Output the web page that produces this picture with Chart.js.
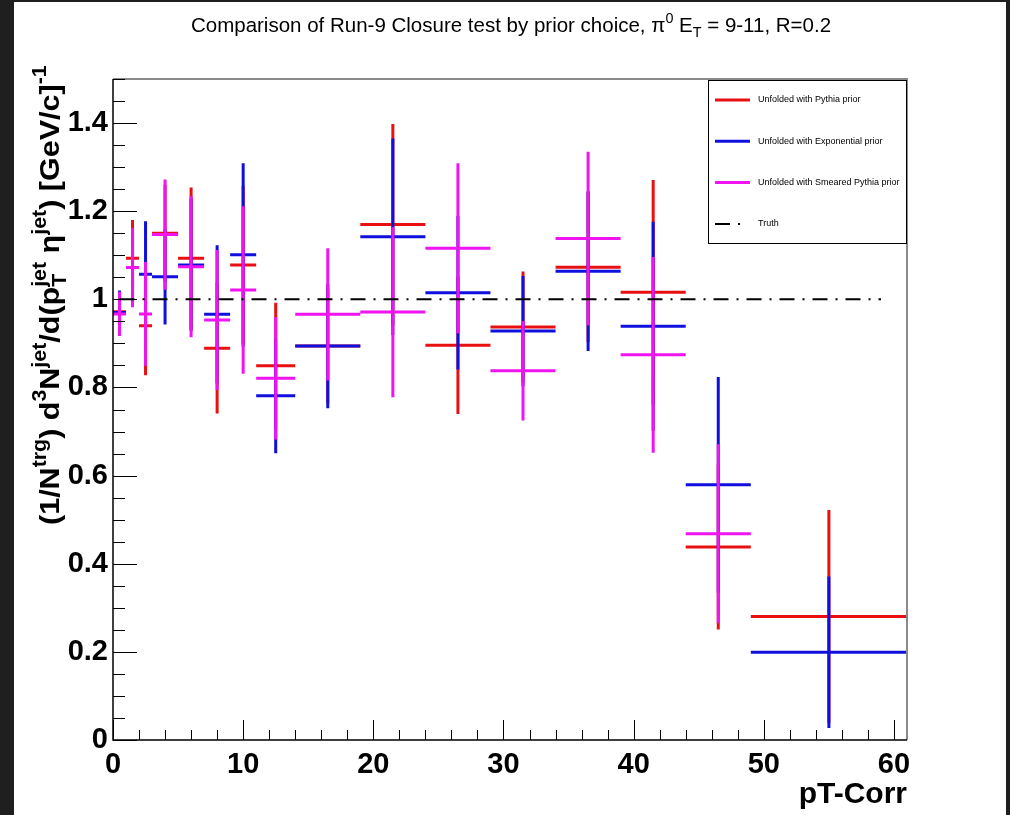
<!DOCTYPE html>
<html>
<head>
<meta charset="utf-8">
<script src="https://cdn.jsdelivr.net/npm/chart.js@4.4.1/dist/chart.umd.min.js"></script>
<style>
  html, body { margin: 0; padding: 0; background: #1f1f1f; }
  #wrap { width: 1010px; height: 815px; }
</style>
</head>
<body>
<div id="wrap"><canvas id="closureChart" width="1010" height="815"></canvas></div>
<script>
// Run-9 closure test, pi0 ET = 9-11, R=0.2

const binEdges = [0, 1, 2, 3, 5, 7, 9, 11, 14, 19, 24, 29, 34, 39, 44, 49, 61];

const pythiaPrior    = [0.972, 1.093, 0.940, 1.150, 1.093, 0.889, 1.078, 0.849, 0.894, 1.170, 0.896, 0.937, 1.073, 1.016, 0.438, 0.280];
const pythiaPriorErr = [0.045, 0.087, 0.112, 0.110, 0.161, 0.148, 0.180, 0.143, 0.130, 0.228, 0.156, 0.126, 0.170, 0.255, 0.187, 0.242];

const expPrior    = [0.970, 1.072, 1.057, 1.051, 1.078, 0.966, 1.101, 0.781, 0.894, 1.142, 1.015, 0.928, 1.064, 0.939, 0.579, 0.199];
const expPriorErr = [0.050, 0.080, 0.120, 0.108, 0.150, 0.157, 0.208, 0.130, 0.141, 0.223, 0.174, 0.125, 0.181, 0.237, 0.245, 0.172];

const smearedPrior    = [0.967, 1.072, 0.967, 1.147, 1.074, 0.953, 1.021, 0.821, 0.966, 0.971, 1.116, 0.838, 1.138, 0.874, 0.468, null];
const smearedPriorErr = [0.050, 0.090, 0.118, 0.125, 0.160, 0.159, 0.190, 0.139, 0.150, 0.193, 0.193, 0.113, 0.197, 0.222, 0.203, null];

const truthX = [0.5, 59];
const truthY = [1, 1];

const xTicks = [0, 10, 20, 30, 40, 50, 60];
const yTicks = [0, 0.2, 0.4, 0.6, 0.8, 1.0, 1.2, 1.4];

const FONT = '"Liberation Sans", Arial, Helvetica, sans-serif';

// each bin -> horizontal bar over the bin width + vertical error bar, split by nulls
function errorBarPoints(values, errors) {
    const pts = [];
    values.forEach((v, i) => {
        if (v === null) return;
        const lo = binEdges[i], hi = binEdges[i + 1], mid = (lo + hi) / 2;
        pts.push({ x: lo, y: v }, { x: hi, y: v }, { x: mid, y: null });
        pts.push({ x: mid, y: v - errors[i] }, { x: mid, y: v + errors[i] }, { x: mid, y: null });
    });
    return pts;
}

// text with ROOT-like sub/superscripts; parts = [[text, mode]], mode '' | '^' | '_' | '_^'
function richWidth(ctx, parts, size, weight) {
    let w = 0;
    parts.forEach(([t, mode]) => {
        if (mode === '') {
            ctx.font = `${weight} ${size}px ${FONT}`;
            w += ctx.measureText(t).width;
        } else {
            ctx.font = `${weight} ${size * 0.7}px ${FONT}`;
            if (mode === '_^') w += Math.max(ctx.measureText(t.sub).width, ctx.measureText(t.sup).width);
            else w += ctx.measureText(t).width;
        }
    });
    return w;
}

function drawRich(ctx, parts, x, y, size, weight, align) {
    let cx = x;
    if (align === 'center') cx -= richWidth(ctx, parts, size, weight) / 2;
    if (align === 'right') cx -= richWidth(ctx, parts, size, weight);
    ctx.textBaseline = 'alphabetic';
    ctx.textAlign = 'left';
    parts.forEach(([t, mode]) => {
        if (mode === '') {
            ctx.font = `${weight} ${size}px ${FONT}`;
            ctx.fillText(t, cx, y);
            cx += ctx.measureText(t).width;
            return;
        }
        ctx.font = `${weight} ${size * 0.7}px ${FONT}`;
        if (mode === '^') {
            ctx.fillText(t, cx, y - size * 0.45);
            cx += ctx.measureText(t).width;
        } else if (mode === '_') {
            ctx.fillText(t, cx, y + size * 0.25);
            cx += ctx.measureText(t).width;
        } else {
            ctx.fillText(t.sup, cx, y - size * 0.45);
            ctx.fillText(t.sub, cx, y + size * 0.25);
            cx += Math.max(ctx.measureText(t.sub).width, ctx.measureText(t.sup).width);
        }
    });
}

const titleParts = [
    ['Comparison of Run-9 Closure test by prior choice, \u03C0', ''], ['0', '^'],
    [' E', ''], ['T', '_'], [' = 9-11, R=0.2', '']
];
const yTitleParts = [
    ['(1/N', ''], ['trg', '^'], [') d', ''], ['3', '^'], ['N', ''], ['jet', '^'],
    ['/d(p', ''], [{ sub: 'T', sup: 'jet' }, '_^'], [' \u03B7', ''], ['jet', '^'],
    [') [GeV/c]', ''], ['-1', '^']
];

const rootStyle = {
    id: 'rootStyle',
    beforeDraw(chart) {
        const ctx = chart.ctx;
        ctx.save();
        ctx.fillStyle = '#1f1f1f';
        ctx.fillRect(0, 0, chart.width, chart.height);
        ctx.fillStyle = '#ffffff';
        ctx.fillRect(14, 2, 992, chart.height - 2);
        ctx.restore();
    },
    afterDraw(chart) {
        const ctx = chart.ctx;
        const { left, right, top, bottom } = chart.chartArea;
        const xs = chart.scales.x, ys = chart.scales.y;
        ctx.save();

        // frame
        ctx.lineWidth = 2;
        ctx.strokeStyle = '#8a8a8a';
        ctx.beginPath();
        ctx.moveTo(left, top); ctx.lineTo(right, top); ctx.lineTo(right, bottom);
        ctx.stroke();
        ctx.lineWidth = 1.5;
        ctx.strokeStyle = '#000';
        ctx.beginPath();
        ctx.moveTo(left, top); ctx.lineTo(left, bottom); ctx.lineTo(right, bottom);
        ctx.stroke();

        // inward ticks
        ctx.lineWidth = 1;
        ctx.beginPath();
        for (let i = 0; i <= 30; i++) {
            const v = i * 0.05;
            const py = Math.round(ys.getPixelForValue(v)) + 0.5;
            const len = (i % 4 === 0) ? 24 : 12;
            ctx.moveTo(left, py); ctx.lineTo(left + len, py);
        }
        for (let v = 0; v <= 61; v += 2) {
            const px = Math.round(xs.getPixelForValue(v)) + 0.5;
            const len = (v % 10 === 0) ? 20 : 10;
            ctx.moveTo(px, bottom); ctx.lineTo(px, bottom - len);
        }
        ctx.stroke();

        // titles
        ctx.fillStyle = '#000';
        drawRich(ctx, titleParts, 511, 32, 20.5, 'normal', 'center');
        ctx.font = `bold 30px ${FONT}`;
        ctx.textAlign = 'right';
        ctx.textBaseline = 'alphabetic';
        ctx.fillText('pT-Corr', 907, 803);
        ctx.save();
        ctx.translate(59, 525);
        ctx.rotate(-Math.PI / 2);
        ctx.scale(1.09, 1);
        drawRich(ctx, yTitleParts, 0, 0, 28, 'bold', 'left');
        ctx.restore();

        // legend box
        ctx.fillStyle = '#fff';
        ctx.fillRect(708, 80, 199, 164);
        ctx.strokeStyle = '#000';
        ctx.lineWidth = 1;
        ctx.strokeRect(708.5, 80.5, 198, 163);
        const legendOrder = [3, 2, 1, 0];
        legendOrder.forEach((di, k) => {
            const ds = chart.data.datasets[di];
            const ly = 100 + k * 41.3;
            ctx.strokeStyle = ds.borderColor;
            ctx.lineWidth = ds.borderWidth;
            ctx.setLineDash(ds.borderDash || []);
            ctx.beginPath();
            ctx.moveTo(715, ly); ctx.lineTo(ds.borderDash ? 748 : 750, ly);
            ctx.stroke();
            ctx.setLineDash([]);
            ctx.fillStyle = '#000';
            ctx.font = `9px ${FONT}`;
            ctx.textAlign = 'left';
            ctx.textBaseline = 'middle';
            ctx.fillText(ds.label, 758, ly);
        });
        ctx.restore();
    }
};

const lineDefaults = { showLine: true, pointRadius: 0, borderWidth: 3, spanGaps: false, tension: 0, fill: false };

// first dataset is drawn top-most
new Chart(document.getElementById('closureChart'), {
    type: 'scatter',
    data: {
        datasets: [
            { ...lineDefaults, label: 'Truth', data: truthX.map((x, i) => ({ x, y: truthY[i] })),
              borderColor: '#000', borderWidth: 2, borderDash: [15, 8, 2, 8] },
            { ...lineDefaults, label: 'Unfolded with Smeared Pythia prior', data: errorBarPoints(smearedPrior, smearedPriorErr),
              borderColor: 'rgb(240, 20, 240)' },
            { ...lineDefaults, label: 'Unfolded with Exponential prior', data: errorBarPoints(expPrior, expPriorErr),
              borderColor: 'rgb(16, 16, 222)' },
            { ...lineDefaults, label: 'Unfolded with Pythia prior', data: errorBarPoints(pythiaPrior, pythiaPriorErr),
              borderColor: 'rgb(232, 16, 16)' }
        ]
    },
    options: {
        responsive: false,
        animation: false,
        devicePixelRatio: 1,
        layout: { padding: { left: 0, top: 79, right: 103, bottom: 0 } },
        plugins: { legend: { display: false }, tooltip: { enabled: false }, title: { display: false } },
        scales: {
            x: {
                type: 'linear', min: 0, max: 61,
                grid: { display: false, drawTicks: false },
                border: { display: false },
                afterBuildTicks: (scale) => { scale.ticks = xTicks.map(v => ({ value: v })); },
                afterFit: (scale) => { scale.height = 75; },
                ticks: { color: '#000', padding: 8, maxRotation: 0, font: { family: FONT, size: 29, weight: 'bold' } }
            },
            y: {
                type: 'linear', min: 0, max: 1.5,
                grid: { display: false, drawTicks: false },
                border: { display: false },
                afterBuildTicks: (scale) => { scale.ticks = yTicks.map(v => ({ value: v })); },
                afterFit: (scale) => { scale.width = 113; },
                ticks: { color: '#000', padding: 5, font: { family: FONT, size: 29, weight: 'bold' },
                         callback: (v) => String(+v.toFixed(1)) }
            }
        }
    },
    plugins: [rootStyle]
});
</script>
</body>
</html>
